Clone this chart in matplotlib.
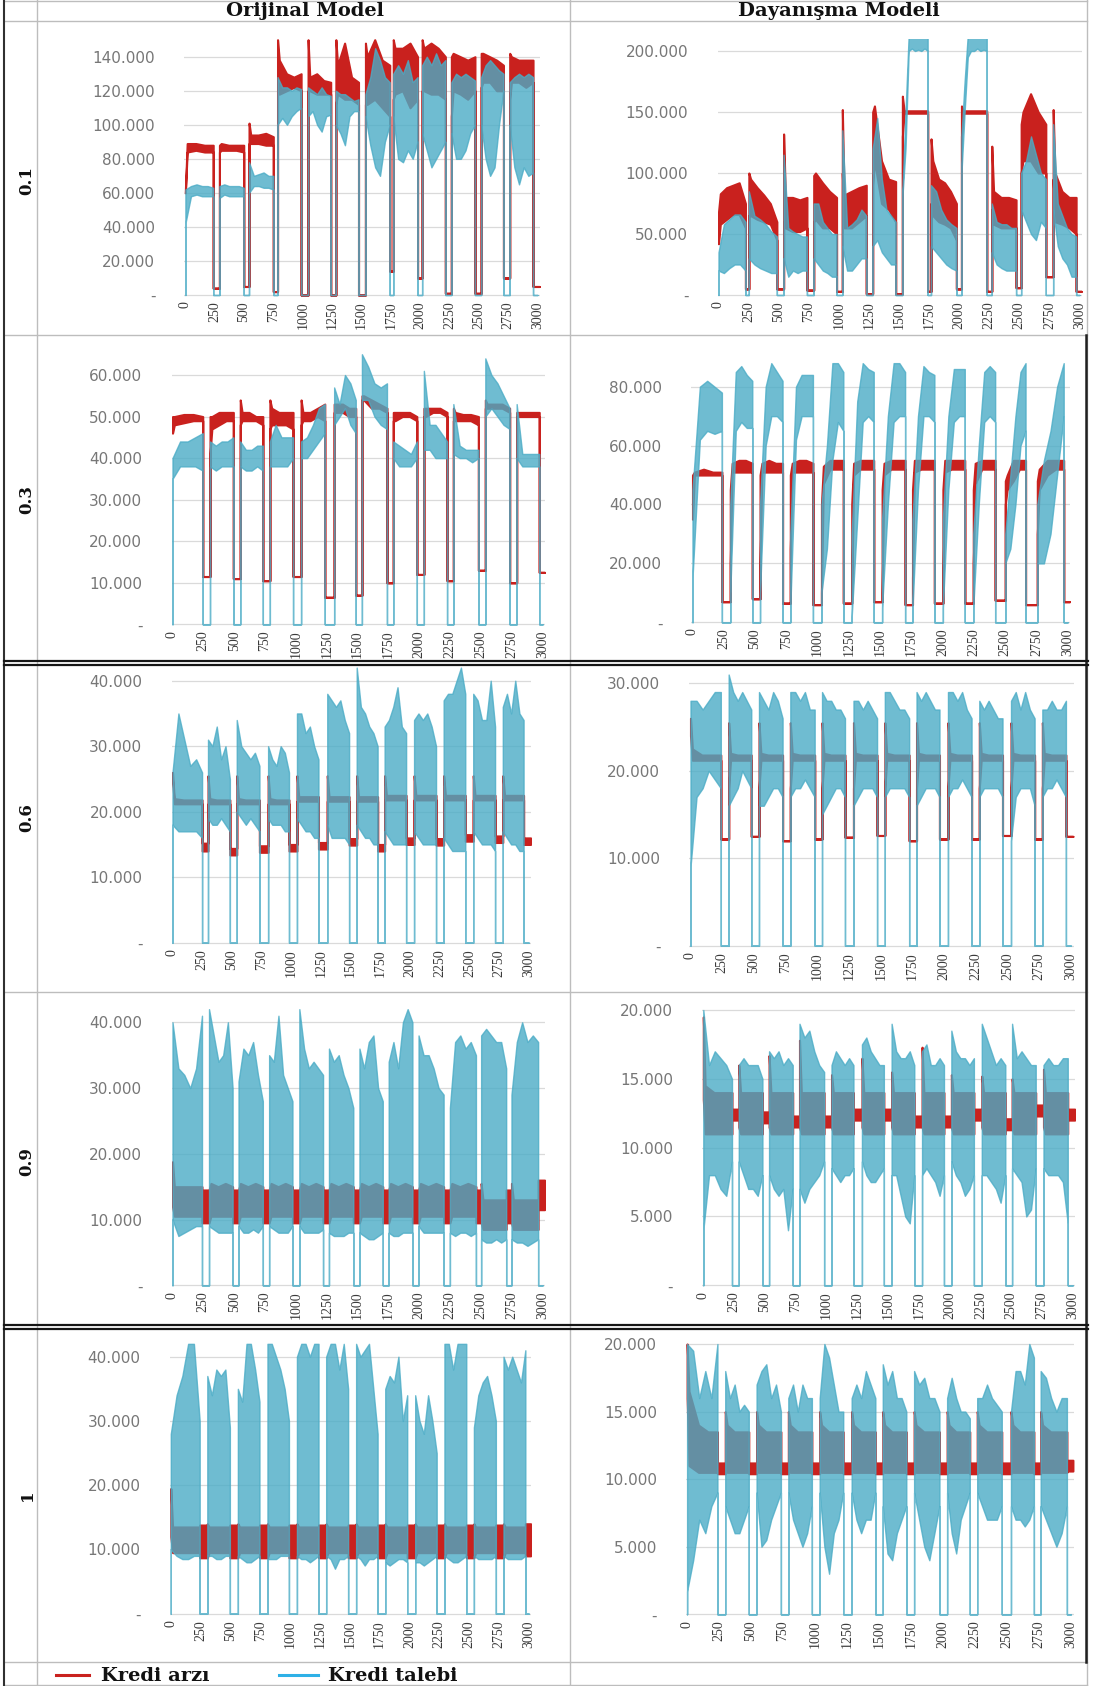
import numpy as np
import matplotlib
matplotlib.use('Agg')
import matplotlib.pyplot as plt

W, H = 1094, 1686
RED = '#C9211E'
BLUE = '#4BACC6'

# values in thousands, x = step (0..3000)
# each series is given per cycle (blue active between start/end, zero in the gaps)

# ---------- 0.1 Orijinal ----------
a_start = [0, 290, 542, 785, 1045, 1282, 1534, 1771, 2017, 2266, 2520, 2763]
a_end = [237, 497, 749, 986, 1238, 1475, 1741, 1978, 2215, 2467, 2710, 2962]
a_bhi = [[62, 64, 65, 64, 64, 63], [64, 65, 64, 64, 64, 63], [78, 70, 71, 72, 70, 70],
         [128, 122, 122, 120, 122, 121], [122, 120, 118, 122, 118, 117], [120, 118, 118, 116, 114, 115],
         [118, 128, 145, 138, 128, 125], [130, 135, 130, 138, 125, 128], [135, 140, 135, 142, 135, 138],
         [125, 130, 128, 130, 128, 126], [128, 135, 138, 135, 132, 130], [125, 128, 130, 128, 130, 128]]
a_blo = [[42, 58, 59, 58, 58, 58], [57, 59, 58, 58, 58, 58], [60, 64, 64, 63, 63, 62],
         [100, 104, 100, 105, 108, 110], [105, 108, 100, 96, 105, 106], [100, 95, 88, 105, 108, 108],
         [105, 88, 75, 70, 90, 100], [105, 80, 78, 85, 80, 90], [95, 85, 75, 80, 85, 90],
         [95, 80, 80, 85, 95, 100], [100, 80, 70, 75, 100, 120], [100, 75, 65, 75, 70, 72]]
a_rhi = [[62, 89, 89, 88, 88], [88, 89, 88, 88, 88], [101, 94, 94, 95, 93],
         [150, 138, 130, 128, 130], [150, 128, 130, 126, 125], [150, 135, 148, 128, 125],
         [148, 140, 150, 138, 135], [150, 145, 145, 148, 140], [150, 145, 148, 145, 140],
         [140, 142, 140, 138, 140], [142, 142, 140, 138, 135], [142, 140, 138, 138, 138]]
a_rlo = [[60, 84, 85, 84, 84], [84, 85, 85, 85, 84], [89, 89, 89, 88, 88],
         [120, 118, 120, 122, 120], [120, 120, 118, 118, 118], [112, 118, 115, 115, 112],
         [112, 112, 115, 110, 105], [115, 118, 120, 110, 115], [120, 120, 118, 118, 115],
         [105, 120, 118, 115, 120], [122, 125, 125, 120, 120], [115, 125, 125, 122, 125]]
a_gap = [4, 5, 2, 0, 0, 0, 14, 10, 1, 1, 10, 5]

# ---------- 0.1 Dayanisma ----------
b_start = [0, 252, 541, 791, 1029, 1281, 1528, 1766, 2019, 2271, 2515, 2781]
b_end = [224, 485, 735, 981, 1228, 1472, 1738, 1977, 2229, 2473, 2720, 2972]
b_bhi = [[35, 58, 62, 66, 66, 60], [85, 65, 62, 58, 52, 48], [115, 55, 52, 50, 48, 48],
         [75, 75, 60, 55, 50, 50], [135, 55, 58, 62, 70, 65], [120, 145, 95, 70, 65, 60],
         [85, 150, 213, 213, 213, 213, 213, 213, 213], [90, 85, 70, 62, 58, 55],
         [130, 175, 213, 213, 213, 213, 213, 213, 213], [75, 60, 58, 58, 55, 55],
         [100, 110, 130, 115, 100, 95], [140, 75, 65, 55, 50, 48]]
b_blo = [[20, 18, 22, 25, 25, 20], [30, 25, 22, 20, 18, 18], [30, 15, 20, 18, 20, 20],
         [30, 25, 20, 18, 15, 15], [40, 20, 20, 25, 30, 30], [40, 45, 35, 30, 25, 25],
         [80, 120, 200, 202, 200, 201, 200, 202, 200], [40, 35, 30, 25, 22, 20],
         [100, 150, 195, 200, 200, 202, 200, 201, 200], [35, 25, 22, 20, 20, 20],
         [70, 60, 50, 45, 60, 55], [70, 40, 30, 25, 15, 15]]
b_rhi = [[68, 83, 88, 90, 92, 75], [100, 95, 88, 82, 75, 60], [132, 80, 80, 78, 80],
         [98, 100, 92, 85, 80], [152, 82, 85, 88, 90], [150, 155, 110, 95, 93],
         [163, 151, 151, 151, 151], [128, 110, 95, 92, 85, 75], [155, 151, 151, 151, 151],
         [122, 85, 80, 80, 78], [140, 150, 165, 150, 140], [152, 100, 85, 80, 80]]
b_rlo = [[42, 58, 62, 66, 66, 55], [65, 65, 62, 60, 58, 45], [60, 55, 52, 52, 55],
         [60, 62, 55, 55, 50], [100, 55, 55, 60, 65], [90, 110, 75, 70, 60],
         [130, 149, 149, 149, 149], [75, 65, 60, 58, 55, 45], [130, 149, 149, 149, 149],
         [70, 58, 55, 55, 55], [100, 110, 110, 100, 100], [95, 60, 58, 55, 50]]
b_gap = [5, 5, 4, 3, 1, 1, 3, 5, 3, 6, 15, 3]

# ---------- 0.3 Orijinal ----------
c_start = [0, 304, 549, 789, 1042, 1310, 1535, 1789, 2037, 2276, 2535, 2789]
c_end = [245, 493, 732, 977, 1234, 1485, 1738, 1980, 2225, 2479, 2732, 2972]
c_bhi = [[40, 44, 44, 45, 46], [44, 43, 44, 44, 45], [44, 42, 42, 43, 43], [44, 48, 45, 45, 45],
         [44, 45, 48, 52, 53], [57, 53, 60, 58, 54], [65, 62, 58, 57, 58], [44, 43, 42, 41, 44],
         [61, 48, 48, 46, 44], [53, 43, 42, 42, 42], [64, 60, 58, 55, 52], [53, 41, 41, 41, 41]]
c_blo = [[35, 38, 38, 38, 37], [38, 37, 38, 38, 38], [38, 37, 37, 38, 37], [38, 38, 38, 38, 40],
         [40, 40, 42, 44, 46], [48, 50, 52, 48, 46], [54, 54, 50, 48, 47], [40, 38, 38, 38, 40],
         [42, 42, 40, 40, 40], [41, 40, 40, 39, 40], [50, 52, 50, 48, 47], [40, 38, 38, 38, 38]]
c_rhi = [[50, 50, 50.5, 50.5, 50], [50, 50, 51, 51, 51], [54, 51, 51, 50, 50], [54, 52, 51, 51, 51],
         [54, 51, 51, 52, 53], [53, 53, 53, 52, 52], [55, 55, 54, 53, 52], [51, 51, 51, 51, 50],
         [52, 52, 52, 52, 51], [52, 51, 50.5, 50.5, 50], [54, 53, 53, 53, 52], [51, 51, 51, 51, 51]]
c_rlo = [[46, 48, 48.5, 49, 49], [41, 47, 48, 49, 49], [48, 49, 49, 49, 48], [47, 48, 48, 48, 47],
         [48, 49, 49, 50, 49], [51, 51, 51, 50, 50], [54, 54, 52, 52, 51], [49, 49, 50, 50, 49],
         [50, 50, 51, 51, 50], [49, 49, 49, 49, 48], [52, 52, 52, 52, 51], [50, 50, 50, 50, 50]]
c_gap = [11.5, 11, 10.5, 11.5, 6.5, 7, 10, 12, 10.5, 13, 10, 12.5]

# ---------- 0.3 Dayanisma ----------
d_start = [0, 302, 540, 782, 1031, 1273, 1516, 1759, 2002, 2245, 2501, 2757]
d_end = [235, 478, 720, 963, 1206, 1449, 1700, 1934, 2177, 2420, 2663, 2968]
d_bhi = [[45, 80, 82, 80, 78], [40, 85, 87, 84, 82], [40, 80, 88, 85, 82], [30, 80, 84, 84, 84],
         [40, 60, 88, 88, 85], [30, 75, 88, 86, 85], [35, 70, 88, 88, 85], [35, 70, 87, 85, 84],
         [35, 70, 86, 86, 86], [30, 60, 85, 87, 85], [30, 50, 70, 85, 88], [40, 55, 65, 80, 88]]
d_blo = [[15, 62, 65, 64, 65], [10, 65, 68, 66, 66], [10, 60, 70, 70, 68], [5, 62, 70, 70, 70],
         [10, 25, 55, 68, 65], [2, 35, 68, 70, 68], [5, 40, 68, 70, 70], [5, 45, 70, 70, 68],
         [5, 45, 68, 70, 70], [5, 40, 68, 70, 68], [20, 25, 40, 60, 65], [20, 20, 30, 50, 70]]
d_rhi = [[50, 51, 52, 51, 51], [45, 54, 55, 55, 54], [50, 54, 55, 54, 54], [50, 54, 55, 55, 54],
         [40, 53, 55, 55, 55], [40, 54, 55, 55, 55], [45, 54, 55, 55, 55], [45, 55, 55, 55, 55],
         [45, 55, 55, 55, 55], [45, 54, 55, 55, 55], [48, 50, 55, 55, 55], [48, 52, 55, 55, 55]]
d_rlo = [[35, 50, 50, 50, 50], [20, 51, 51, 51, 51], [20, 51, 51, 51, 51], [25, 51, 51, 51, 51],
         [10, 47, 52, 52, 52], [8, 50, 52, 52, 52], [10, 50, 52, 52, 52], [15, 51, 52, 52, 52],
         [12, 51, 52, 52, 52], [20, 47, 52, 52, 52], [40, 45, 48, 52, 52], [30, 45, 50, 52, 52]]
d_gap = [7, 8, 6.5, 6, 6.5, 7, 6, 6.5, 6.5, 7.5, 6, 7]

# ---------- 0.6 Orijinal ----------
e_start = [0, 299, 541, 805, 1048, 1303, 1551, 1786, 2034, 2283, 2532, 2781]
e_end = [249, 483, 732, 981, 1229, 1487, 1727, 1967, 2219, 2465, 2716, 2956]
e_bhi = [[26, 35, 31, 27, 28, 26], [31, 30, 33, 28, 30, 25], [34, 30, 29, 28, 29, 27],
         [30, 28, 27, 30, 29, 26], [35, 35, 32, 33, 30, 28], [38, 37, 36, 37, 34, 32],
         [42, 36, 35, 33, 32, 30], [33, 34, 36, 39, 33, 32], [34, 35, 34, 35, 33, 30],
         [37, 38, 38, 40, 42, 38], [38, 37, 34, 34, 40, 33], [36, 38, 35, 40, 35, 34]]
e_blo = [[18, 17, 17, 17, 17, 16], [19, 18, 18, 19, 18, 17], [20, 19, 18, 19, 18, 17],
         [19, 18, 18, 18, 17, 17], [19, 18, 17, 17, 16, 16], [18, 16, 16, 16, 16, 15],
         [18, 17, 16, 16, 15, 15], [17, 16, 15, 15, 15, 15], [17, 16, 15, 15, 15, 15],
         [16, 15, 14, 14, 14, 14], [17, 16, 15, 15, 15, 14], [17, 16, 15, 15, 14, 14]]
e_rhi = [[26, 22, 21.8, 21.8, 21.8], [25.5, 22, 21.8, 21.8, 21.8], [25.5, 22, 21.8, 21.8, 21.8],
         [25.5, 22, 21.8, 21.8, 21.8], [25.5, 22.3, 22.3, 22.3, 22.3], [25.5, 22.3, 22.3, 22.3, 22.3],
         [25.5, 22.3, 22.3, 22.3, 22.3], [25.5, 22.5, 22.5, 22.5, 22.5], [25.5, 22.5, 22.5, 22.5, 22.5],
         [25.5, 22.5, 22.5, 22.5, 22.5], [25.5, 22.5, 22.5, 22.5, 22.5], [25.5, 22.5, 22.5, 22.5, 22.5]]
e_rlo = [[25, 21.2, 21.2, 21.2, 21.2], [21.2, 21.2, 21.2, 21.2, 21.2], [21.2, 21.2, 21.2, 21.2, 21.2],
         [21.2, 21.2, 21.2, 21.2, 21.2], [21.6, 21.6, 21.6, 21.6, 21.6], [21.6, 21.6, 21.6, 21.6, 21.6],
         [21.6, 21.6, 21.6, 21.6, 21.6], [21.8, 21.8, 21.8, 21.8, 21.8], [21.8, 21.8, 21.8, 21.8, 21.8],
         [21.8, 21.8, 21.8, 21.8, 21.8], [21.8, 21.8, 21.8, 21.8, 21.8], [21.8, 21.8, 21.8, 21.8, 21.8]]
e_gap = [14, 13.4, 13.8, 14, 14.3, 14.9, 14, 15, 14.9, 15.5, 15.3, 15]
e_gap_hi = [15.2, 14.4, 14.8, 15, 15.3, 15.9, 15, 16, 15.9, 16.5, 16.3, 16]

# ---------- 0.6 Dayanisma ----------
f_start = [0, 301, 540, 787, 1037, 1285, 1532, 1782, 2030, 2277, 2527, 2774]
f_end = [239, 479, 726, 979, 1218, 1471, 1724, 1963, 2216, 2460, 2713, 2960]
f_bhi = [[28, 28, 27, 28, 29, 29], [31, 29, 28, 29, 28, 27], [29, 28, 27, 29, 28, 26],
         [29, 29, 28, 29, 27, 27], [29, 28, 28, 27, 27, 26], [28, 28, 27, 28, 27, 26],
         [29, 29, 28, 27, 27, 26], [29, 28, 29, 28, 27, 27], [29, 29, 28, 29, 27, 26],
         [28, 27, 28, 27, 26, 26], [28, 29, 27, 29, 27, 26], [27, 27, 28, 27, 27, 28]]
f_blo = [[9, 17, 18, 20, 19, 18], [16, 17, 18, 20, 19, 18], [16, 16, 17, 18, 18, 17],
         [17, 18, 18, 19, 18, 17], [15, 16, 17, 18, 18, 17], [16, 17, 18, 18, 18, 17],
         [17, 18, 18, 18, 18, 17], [16, 17, 18, 18, 18, 17], [17, 18, 18, 19, 18, 17],
         [17, 18, 18, 18, 18, 17], [12, 17, 18, 18, 18, 16], [17, 18, 18, 19, 18, 17]]
f_rhi = [[26, 22.5, 21.8, 21.8, 21.8], [25.5, 22, 21.8, 21.8, 21.8], [25.5, 22, 21.8, 21.8, 21.8],
         [25.5, 22, 21.8, 21.8, 21.8], [25.5, 22, 21.8, 21.8, 21.8], [25.5, 22, 21.8, 21.8, 21.8],
         [25.5, 22, 21.8, 21.8, 21.8], [25.5, 22, 21.8, 21.8, 21.8], [25.5, 22, 21.8, 21.8, 21.8],
         [25.5, 22, 21.8, 21.8, 21.8], [25.5, 22, 21.8, 21.8, 21.8], [25.5, 22, 21.8, 21.8, 21.8]]
f_rlo = [[24, 21.2, 21.2, 21.2, 21.2], [18, 21.2, 21.2, 21.2, 21.2], [18, 21.2, 21.2, 21.2, 21.2],
         [18, 21.2, 21.2, 21.2, 21.2], [18, 21.2, 21.2, 21.2, 21.2], [18, 21.2, 21.2, 21.2, 21.2],
         [18, 21.2, 21.2, 21.2, 21.2], [18, 21.2, 21.2, 21.2, 21.2], [18, 21.2, 21.2, 21.2, 21.2],
         [18, 21.2, 21.2, 21.2, 21.2], [18, 21.2, 21.2, 21.2, 21.2], [18, 21.2, 21.2, 21.2, 21.2]]
f_gap = [12.2, 12.5, 12, 12.2, 12.4, 12.6, 12, 12.2, 12.2, 12.6, 12.2, 12.5]

# ---------- 0.9 Orijinal ----------
g_start = [0, 296, 535, 783, 1028, 1268, 1515, 1752, 1994, 2248, 2501, 2747]
g_end = [239, 487, 732, 972, 1220, 1465, 1704, 1944, 2197, 2459, 2704, 2963]
g_bhi = [[40, 33, 32, 30, 33, 41], [42, 38, 34, 35, 40, 30], [31, 36, 35, 37, 32, 28],
         [35, 34, 41, 32, 30, 28], [42, 36, 33, 34, 33, 32], [36, 34, 35, 32, 30, 27],
         [36, 33, 37, 38, 30, 28], [34, 37, 33, 40, 42, 40], [38, 35, 35, 33, 30, 29],
         [27, 37, 38, 36, 37, 35], [38, 39, 38, 37, 37, 33], [29, 37, 40, 37, 38, 37]]
g_blo = [[10, 7.5, 8, 8.5, 9, 9], [9, 8.5, 8, 8, 8, 8], [9, 8, 8, 8.5, 8, 9],
         [9, 8.5, 8, 8, 8, 9], [9, 8, 8, 8, 8, 8.5], [8, 7.5, 7.5, 7.5, 8, 8],
         [8, 7.5, 7, 7, 7.5, 8], [8, 7.5, 7.5, 8, 8, 8], [9, 8, 8, 8, 8, 8],
         [8, 7.5, 8, 8, 7.5, 8], [7, 6.5, 6.5, 7, 6.5, 7], [7, 6.5, 6.5, 6, 6.5, 7]]
g_rhi = [[18.8, 15, 15, 15, 15], [14.5, 15.5, 15, 15.5, 15], [14.5, 15.5, 15, 15.5, 15],
         [14.5, 15.5, 15, 15.5, 15], [14.5, 15.5, 15, 15.5, 15], [14.5, 15.5, 15, 15.5, 15],
         [14.5, 15.5, 15, 15.5, 15], [14.5, 15.5, 15, 15.5, 15], [14.5, 15.5, 15, 15.5, 15],
         [14.5, 15.5, 15, 15.5, 15], [15.5, 13, 13, 13, 13], [15.5, 13, 13, 13, 13]]
g_rlo = [[12, 10.5, 10.5, 10.5, 10.5], [9.5, 10.5, 10.5, 10.5, 10.5], [9.5, 10.5, 10.5, 10.5, 10.5],
         [9.5, 10.5, 10.5, 10.5, 10.5], [9.5, 10.5, 10.5, 10.5, 10.5], [9.5, 10.5, 10.5, 10.5, 10.5],
         [9.5, 10.5, 10.5, 10.5, 10.5], [9.5, 10.5, 10.5, 10.5, 10.5], [9.5, 10.5, 10.5, 10.5, 10.5],
         [9.5, 10.5, 10.5, 10.5, 10.5], [9.5, 8.5, 8.5, 8.5, 8.5], [9.5, 8.5, 8.5, 8.5, 8.5]]
g_gap = [9.5, 9.5, 9.5, 9.5, 9.5, 9.5, 9.5, 9.5, 9.5, 9.5, 9.5, 11.5]
g_gap_hi = [14.5, 14.5, 14.5, 14.5, 14.5, 14.5, 14.5, 14.5, 14.5, 14.5, 14.5, 16]

# ---------- 0.9 Dayanisma ----------
h_start = [0, 288, 534, 781, 1041, 1288, 1529, 1776, 2014, 2261, 2507, 2762]
h_end = [233, 480, 726, 981, 1219, 1466, 1713, 1954, 2197, 2452, 2699, 2959]
h_bhi = [[20, 16, 17, 16.5, 16, 15], [16, 16.5, 16, 16, 16, 15], [17, 16.5, 17, 16, 16.5, 16],
         [19, 18, 18.5, 17, 16, 15.5], [16, 17, 16.5, 16, 16.5, 16], [17.5, 18, 17, 16.5, 16, 16],
         [19, 17, 16.5, 16.5, 17, 16], [17, 17.5, 16, 16, 16.5, 16], [18.5, 17, 16.5, 16.5, 16, 16.5],
         [19, 18, 17, 16, 16.5, 16], [19, 16.5, 17, 16.5, 16, 16], [16, 16.5, 16, 16, 16.5, 16.5]]
h_blo = [[4, 8, 8, 7, 6.5, 9], [9, 8, 7, 7, 6.5, 8], [8, 7, 6.5, 7, 4, 7],
         [7, 6, 7, 7.5, 8, 9], [8.5, 8, 7.5, 8, 8, 8.5], [9, 8, 7.5, 7.5, 8, 8.5],
         [8, 8, 6.5, 5, 4.5, 8], [8, 8.5, 8, 7.5, 6.5, 8], [9, 8, 7.5, 6.5, 7, 8],
         [8, 8, 7.5, 7, 6, 8], [8.5, 8, 7.5, 5, 5.5, 8.5], [8.5, 8, 8, 8, 7.5, 4.5]]
h_rhi = [[19.5, 14.5, 14, 14, 14], [16, 14, 14, 14, 14], [16.7, 14, 14, 14, 14], [17.8, 14, 14, 14, 14],
         [15.3, 14, 14, 14, 14], [16.5, 14, 14, 14, 14], [15.5, 14, 14, 14, 14], [17.3, 14, 14, 14, 14],
         [15.3, 14, 14, 14, 14], [15.2, 14, 14, 14, 14], [15, 14, 14, 14, 14], [15.7, 14, 14, 14, 14]]
h_rlo = [[13.5, 11, 11, 11, 11], [11.5, 11, 11, 11, 11], [11.5, 11, 11, 11, 11], [11.5, 11, 11, 11, 11],
         [11.5, 11, 11, 11, 11], [11.5, 11, 11, 11, 11], [11.5, 11, 11, 11, 11], [11.5, 11, 11, 11, 11],
         [11.5, 11, 11, 11, 11], [11.5, 11, 11, 11, 11], [11.5, 11, 11, 11, 11], [11.5, 11, 11, 11, 11]]
h_gap = [12, 11.8, 11.5, 11.5, 12, 12, 11.5, 11.5, 12, 11.3, 12.3, 12]
h_gap_hi = [12.8, 12.6, 12.3, 12.3, 12.8, 12.8, 12.3, 12.3, 12.8, 12.1, 13.1, 12.8]

# ---------- 1 Orijinal ----------
i_start = [0, 306, 562, 810, 1057, 1302, 1553, 1797, 2048, 2293, 2540, 2788]
i_end = [242, 495, 743, 990, 1238, 1486, 1733, 1981, 2228, 2476, 2724, 2971]
i_bhi = [[28, 34, 37, 42, 42, 30], [37, 34, 38, 37, 38, 29], [35, 33, 42, 42, 38, 33],
         [42, 42, 40, 38, 35, 30], [40, 42, 42, 40, 42, 42], [40, 42, 42, 38, 42, 35],
         [42, 40, 41, 42, 35, 28], [35, 37, 36, 40, 30, 34], [34, 30, 28, 34, 30, 25],
         [42, 42, 38, 42, 42, 42], [29, 34, 36, 37, 34, 30], [40, 38, 40, 38, 36, 41]]
i_blo = [[10, 9, 8.5, 8.5, 9, 9], [9, 9, 8.5, 8.5, 9, 9], [9, 8.5, 8, 8, 8.5, 9],
         [8.5, 8.5, 8.5, 9, 9, 9], [9, 8.5, 8.5, 8, 8.5, 9], [9, 8.5, 7, 8.5, 8.5, 9],
         [9, 8.5, 7.5, 8.5, 8.5, 9], [8, 7.5, 8, 8.5, 8.5, 8], [8, 8, 7.5, 8, 8.5, 9],
         [9, 8.5, 8, 8, 8.5, 9], [9, 8.5, 8.5, 8.5, 8.5, 9], [9, 8.5, 8.5, 8.5, 8.5, 9]]
i_rhi = [[19.5, 13.5, 13.5, 13.5, 13.5], [14, 13.5, 13.5, 13.5, 13.5], [14, 13.5, 13.5, 13.5, 13.5],
         [14, 13.5, 13.5, 13.5, 13.5], [14, 13.5, 13.5, 13.5, 13.5], [14, 13.5, 13.5, 13.5, 13.5],
         [14, 13.5, 13.5, 13.5, 13.5], [14, 13.5, 13.5, 13.5, 13.5], [14, 13.5, 13.5, 13.5, 13.5],
         [14, 13.5, 13.5, 13.5, 13.5], [14, 13.5, 13.5, 13.5, 13.5], [14, 13.5, 13.5, 13.5, 13.5]]
i_rlo = [[12, 9.5, 9.5, 9.5, 9.5], [8.7, 9.5, 9.5, 9.5, 9.5], [8.7, 9.5, 9.5, 9.5, 9.5],
         [8.7, 9.5, 9.5, 9.5, 9.5], [8.7, 9.5, 9.5, 9.5, 9.5], [8.7, 9.5, 9.5, 9.5, 9.5],
         [8.7, 9.5, 9.5, 9.5, 9.5], [8.7, 9.5, 9.5, 9.5, 9.5], [8.7, 9.5, 9.5, 9.5, 9.5],
         [8.7, 9.5, 9.5, 9.5, 9.5], [8.7, 9.5, 9.5, 9.5, 9.5], [8.7, 9.5, 9.5, 9.5, 9.5]]
i_gap = [8.7, 8.7, 8.7, 8.7, 8.7, 8.7, 8.7, 8.7, 8.7, 8.7, 8.7, 9]
i_gap_hi = [13.8, 13.8, 13.8, 13.8, 13.8, 13.8, 13.8, 13.8, 13.8, 13.8, 13.8, 14]

# ---------- 1 Dayanisma ----------
j_start = [0, 298, 543, 791, 1036, 1286, 1529, 1774, 2032, 2267, 2531, 2763]
j_end = [237, 482, 733, 975, 1220, 1471, 1713, 1972, 2209, 2459, 2710, 2968]
j_bhi = [[20, 19.5, 16, 18, 16, 20], [18, 16, 17, 15, 15.5, 15], [17, 18, 18.5, 16, 17, 15],
         [16, 17, 15, 17, 16, 16], [16, 20, 19, 17, 15, 15], [16, 17, 16, 18, 17, 16],
         [18.5, 17, 18, 16, 16, 15], [18, 17, 17.5, 16, 16, 15], [16, 17.5, 16, 15, 15, 14.5],
         [16, 16, 17, 16, 15.5, 15], [15, 18, 18, 17, 20, 19], [18, 17.5, 16, 15, 16, 16]]
j_blo = [[1.7, 4, 7, 6, 8, 9], [8, 7, 6, 6, 7, 8], [9, 5, 5.5, 7, 8, 9],
         [9, 7, 6, 5, 6, 8], [9, 5, 3, 6, 7, 9], [9, 7, 6, 7, 7, 9],
         [8, 4.5, 4, 6, 7, 8], [9, 7, 5, 4, 6, 8], [9, 6, 4.5, 7, 8, 9],
         [9, 8, 7, 7, 7, 8], [8, 7, 7, 6.5, 7, 8], [8, 7, 6, 5, 6, 8]]
j_rhi = [[20, 16.5, 14, 13.5, 13.5], [15, 14, 13.5, 13.5, 13.5], [15, 14, 13.5, 13.5, 13.5],
         [15, 14, 13.5, 13.5, 13.5], [15, 14, 13.5, 13.5, 13.5], [15, 14, 13.5, 13.5, 13.5],
         [15, 14, 13.5, 13.5, 13.5], [15, 14, 13.5, 13.5, 13.5], [15, 14, 13.5, 13.5, 13.5],
         [15, 14, 13.5, 13.5, 13.5], [15, 14, 13.5, 13.5, 13.5], [15, 14, 13.5, 13.5, 13.5]]
j_rlo = [[16, 11, 10.5, 10.5, 10.5], [11, 10.5, 10.5, 10.5, 10.5], [11, 10.5, 10.5, 10.5, 10.5],
         [11, 10.5, 10.5, 10.5, 10.5], [11, 10.5, 10.5, 10.5, 10.5], [11, 10.5, 10.5, 10.5, 10.5],
         [11, 10.5, 10.5, 10.5, 10.5], [11, 10.5, 10.5, 10.5, 10.5], [11, 10.5, 10.5, 10.5, 10.5],
         [11, 10.5, 10.5, 10.5, 10.5], [11, 10.5, 10.5, 10.5, 10.5], [11, 10.5, 10.5, 10.5, 10.5]]
j_gap = [10.4, 10.4, 10.4, 10.4, 10.4, 10.4, 10.4, 10.4, 10.4, 10.4, 10.4, 10.6]
j_gap_hi = [11.2, 11.2, 11.2, 11.2, 11.2, 11.2, 11.2, 11.2, 11.2, 11.2, 11.2, 11.4]

col_titles = ['Orijinal Model', 'Dayanışma Modeli']
row_titles = ['0.1', '0.3', '0.6', '0.9', '1']
x_ticks = list(range(0, 3001, 250))

# pixel placement: x of step 0, x of step 3000, y of value 0, px per thousand, y max
panels = [
    ((185.4, 537.5, 295.0, 1.702, 152), range(0, 141, 20),
     (a_start, a_end, a_bhi, a_blo, a_rhi, a_rlo, a_gap, a_gap)),
    ((718.5, 1079.5, 295.0, 1.22, 210), range(0, 201, 50),
     (b_start, b_end, b_bhi, b_blo, b_rhi, b_rlo, b_gap, b_gap)),
    ((172.5, 542.7, 624.3, 4.155, 66), range(0, 61, 10),
     (c_start, c_end, c_bhi, c_blo, c_rhi, c_rlo, c_gap, c_gap)),
    ((692.5, 1067.7, 622.3, 2.945, 91), range(0, 81, 20),
     (d_start, d_end, d_bhi, d_blo, d_rhi, d_rlo, d_gap, d_gap)),
    ((172.5, 528.8, 942.7, 6.55, 42.5), range(0, 41, 10),
     (e_start, e_end, e_bhi, e_blo, e_rhi, e_rlo, e_gap, e_gap_hi)),
    ((690.5, 1071.0, 945.7, 8.747, 31.8), range(0, 31, 10),
     (f_start, f_end, f_bhi, f_blo, f_rhi, f_rlo, f_gap, f_gap)),
    ((172.5, 542.7, 1285.3, 6.575, 42.5), range(0, 41, 10),
     (g_start, g_end, g_bhi, g_blo, g_rhi, g_rlo, g_gap, g_gap_hi)),
    ((703.3, 1072.8, 1285.3, 13.765, 20.3), range(0, 21, 5),
     (h_start, h_end, h_bhi, h_blo, h_rhi, h_rlo, h_gap, h_gap_hi)),
    ((170.8, 528.8, 1613.7, 6.425, 42.3), range(0, 41, 10),
     (i_start, i_end, i_bhi, i_blo, i_rhi, i_rlo, i_gap, i_gap_hi)),
    ((687.1, 1071.0, 1614.3, 13.515, 20.2), range(0, 21, 5),
     (j_start, j_end, j_bhi, j_blo, j_rhi, j_rlo, j_gap, j_gap_hi)),
]


def blue_path(starts, ends, his, los):
    xs, hs, ls = [], [], []
    for s, e, h, l in zip(starts, ends, his, los):
        kx = np.linspace(s, e, len(h))
        xs += [s] + list(kx) + [e]
        hs += [0] + list(h) + [0]
        ls += [0] + list(l) + [0]
    xs.append(3000); hs.append(0); ls.append(0)
    return np.array(xs, float), np.array(ls, float), np.array(hs, float)


def red_path(starts, ends, his, los, glo, ghi):
    xs, hs, ls = [], [], []
    n = len(starts)
    for i in range(n):
        s, e, h, l = starts[i], ends[i], his[i], los[i]
        kx = np.concatenate([[s], np.linspace(s + 15, e, len(h) - 1)])
        xs += list(kx); hs += list(h); ls += list(l)
        nxt = starts[i + 1] if i + 1 < n else 3015
        xs += [e, nxt]; hs += [ghi[i]] * 2; ls += [glo[i]] * 2
    return np.array(xs, float), np.array(ls, float), np.array(hs, float)


def ylab(v):
    return '-' if v == 0 else '%d.000' % v


fig = plt.figure(figsize=(W / 100, H / 100), dpi=100)
bg = fig.add_axes([0, 0, 1, 1])
bg.set_xlim(0, W); bg.set_ylim(H, 0); bg.axis('off')

# table grid
gray = '#bdbdbd'
for y in [1, 21, 335, 992, 1662, 1685]:
    bg.plot([4, 1087], [y, y], color=gray, lw=1.0)
for x in [37, 570]:
    bg.plot([x, x], [0, H], color=gray, lw=1.0)
bg.plot([4, 4], [0, H], color='#303030', lw=1.5)
bg.plot([1087, 1087], [0, H], color=gray, lw=1.0)
bg.plot([1086, 1086], [335, 1662], color='#202020', lw=1.8)
for y in [661, 665, 1325, 1329]:
    bg.plot([4, 1088], [y, y], color='#151515', lw=1.6)

hfont = dict(fontfamily='DejaVu Serif', fontweight='bold', color='#111111')
bg.text(305, 11, col_titles[0], ha='center', va='center', fontsize=14, **hfont)
bg.text(839, 11, col_titles[1], ha='center', va='center', fontsize=14, **hfont)
for t, yc in zip(row_titles, [181, 500, 818, 1162, 1495]):
    bg.text(27, yc, t, rotation=90, ha='center', va='center', fontsize=12, **hfont)

# legend
bg.plot([56, 89], [1675, 1675], color=RED, lw=2.2)
bg.text(101, 1676, 'Kredi arzı', ha='left', va='center', fontsize=14, **hfont)
bg.plot([279, 318], [1675, 1675], color='#2EB0E6', lw=2.2)
bg.text(328, 1676, 'Kredi talebi', ha='left', va='center', fontsize=14, **hfont)

for place, yticks, data in panels:
    x0, x3, y0, s, ytop = place
    sx = (x3 - x0) / 3000.0
    ybot = -ytop * 0.008
    xmin, xmax = -8, 3020
    left = x0 + xmin * sx
    right = x0 + xmax * sx
    top = y0 - ytop * s
    bottom = y0 - ybot * s
    ax = fig.add_axes([left / W, 1 - bottom / H, (right - left) / W, (bottom - top) / H])
    ax.set_facecolor('none')
    ax.set_xlim(xmin, xmax)
    ax.set_ylim(ybot, ytop)
    for sp in ax.spines.values():
        sp.set_visible(False)
    ax.set_yticks(list(yticks))
    ax.set_yticklabels([ylab(v) for v in yticks], fontfamily='DejaVu Sans', fontsize=11, color='#777777')
    ax.set_xticks(x_ticks)
    ax.set_xticklabels([str(v) for v in x_ticks], rotation=90, fontfamily='Liberation Serif',
                       fontsize=10, color='#3a3a3a')
    ax.tick_params(axis='y', length=0, pad=21)
    ax.tick_params(axis='x', length=0, pad=3)
    ax.grid(axis='y', color='#dadada', lw=0.9)
    ax.set_axisbelow(True)

    st, en, bhi, blo, rhi, rlo, glo, ghi = data
    rx, rl, rh = red_path(st, en, rhi, rlo, glo, ghi)
    ax.fill_between(rx, rl, rh, facecolor=RED, edgecolor=RED, lw=1.5, zorder=2)
    bx, bl, bh = blue_path(st, en, bhi, blo)
    ax.fill_between(bx, bl, bh, facecolor=BLUE, edgecolor=BLUE, lw=1.0, alpha=0.8, zorder=3)

fig.savefig('out.png', dpi=100)
